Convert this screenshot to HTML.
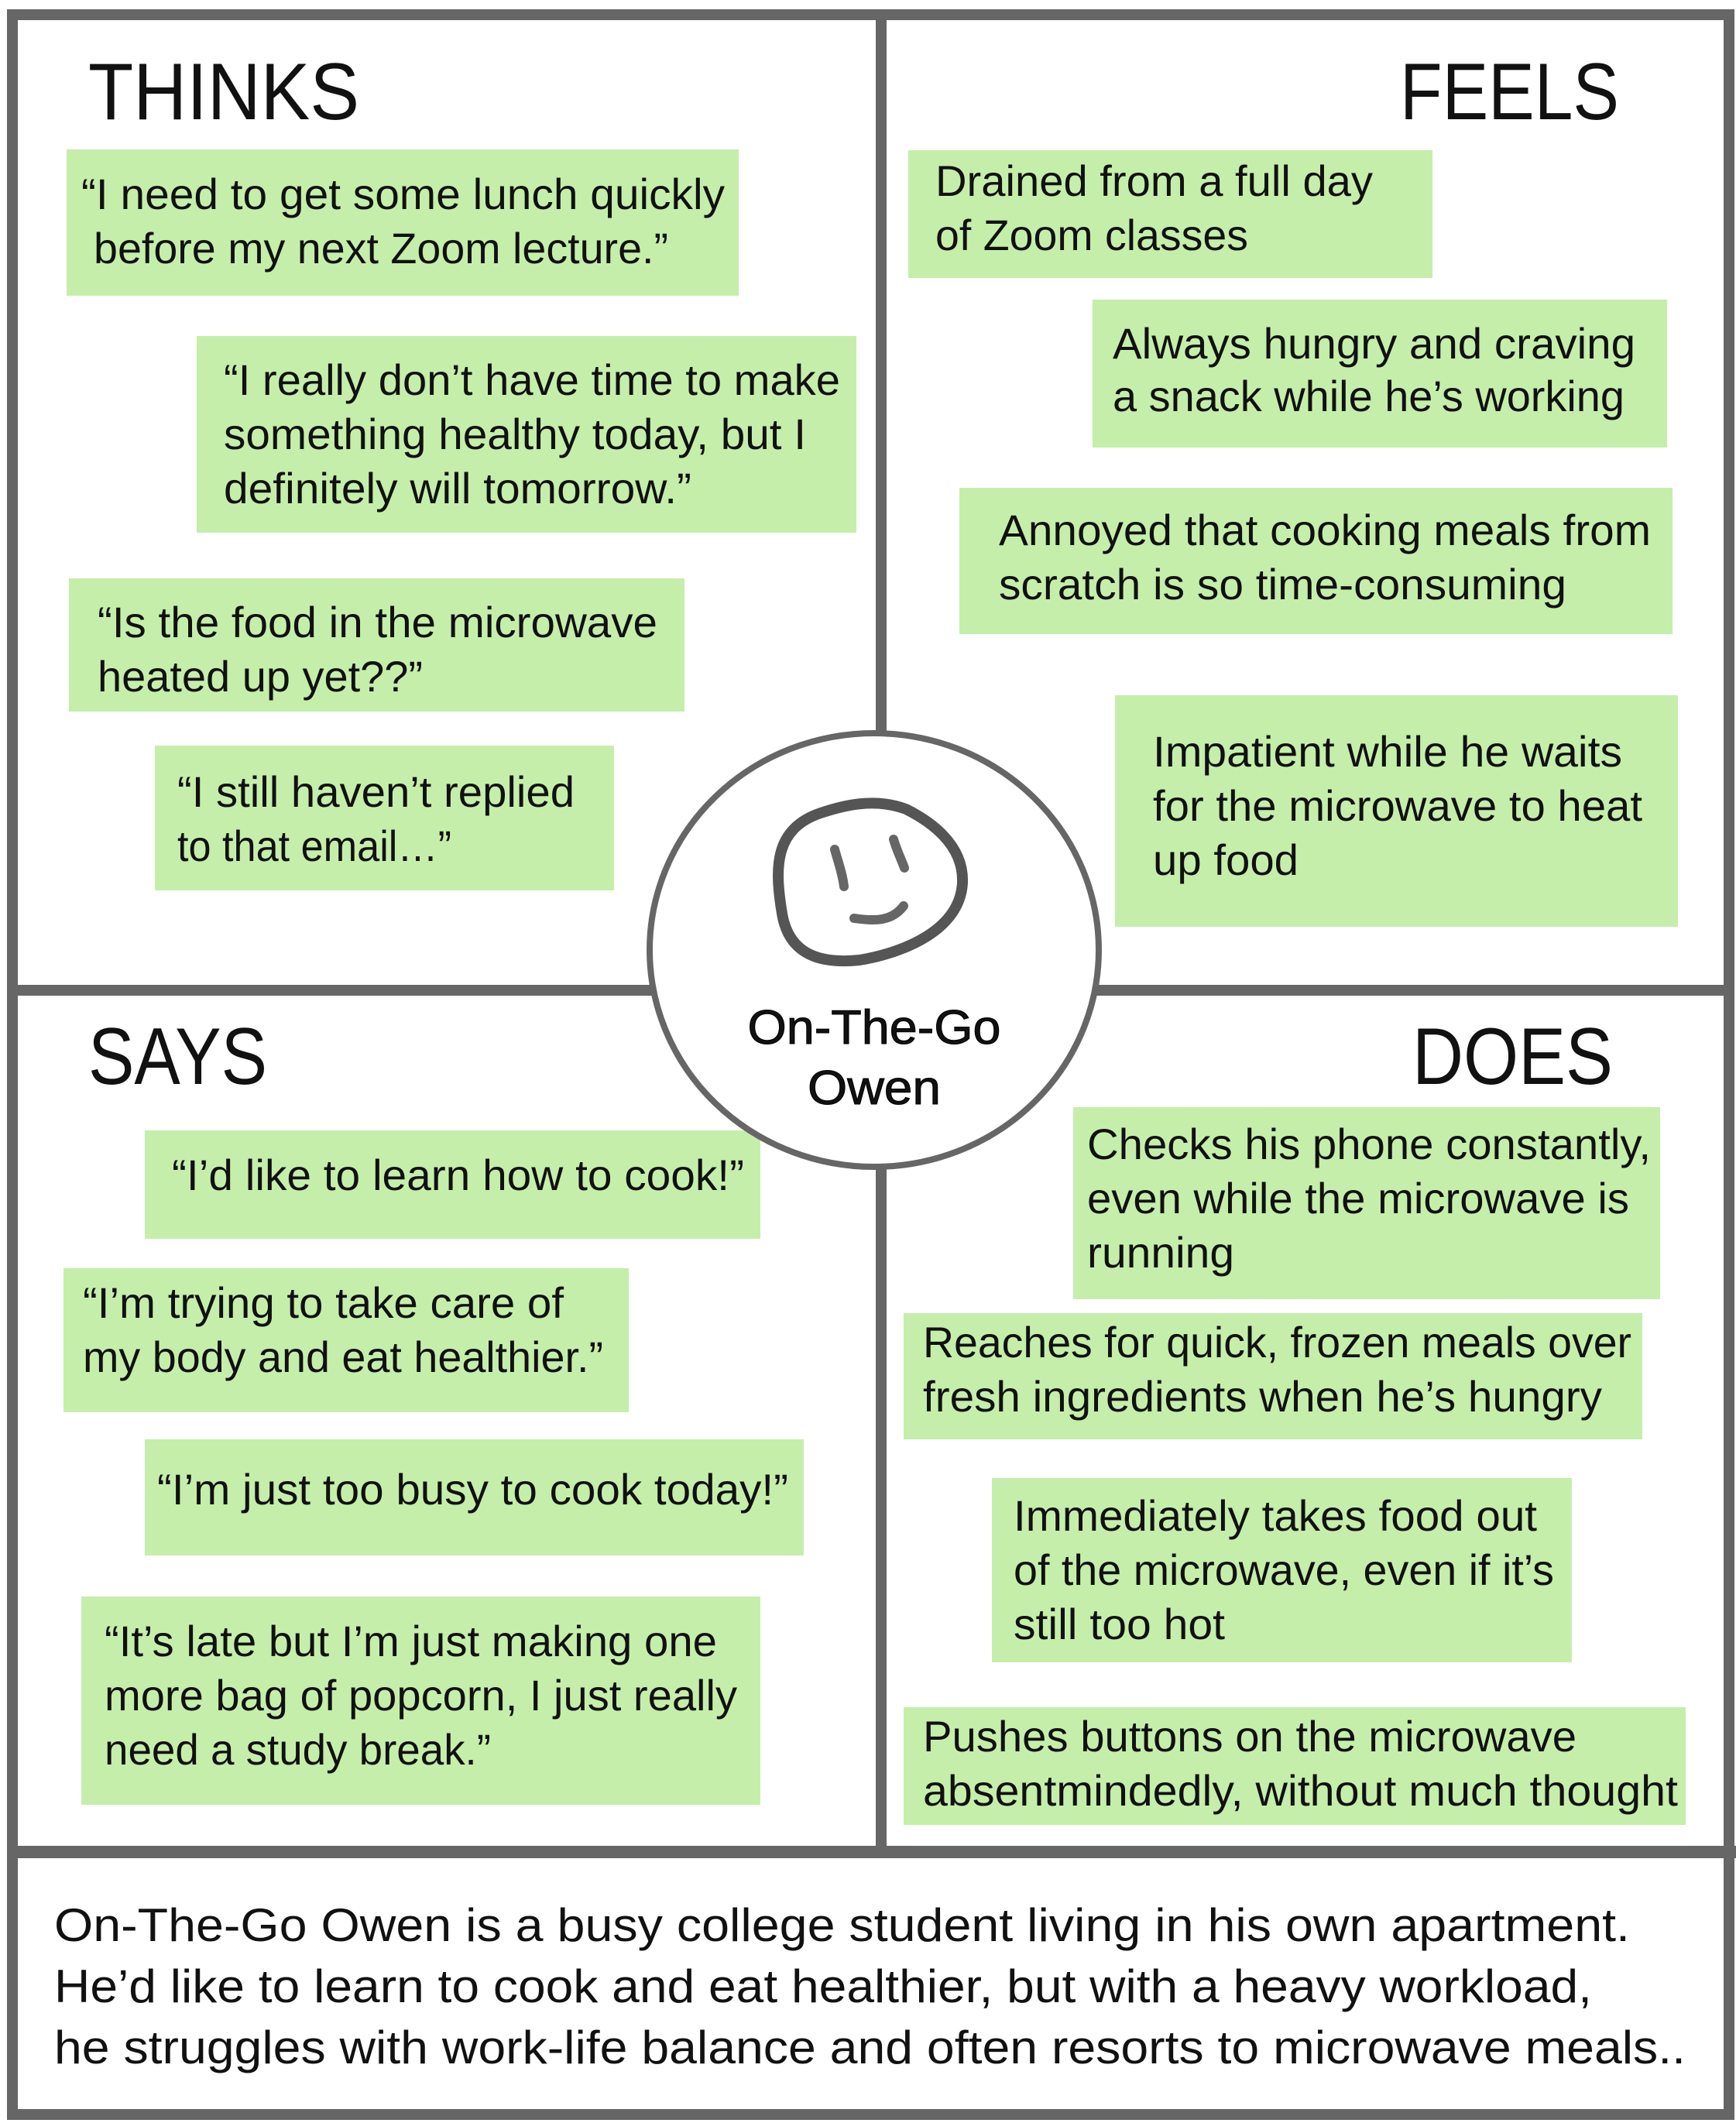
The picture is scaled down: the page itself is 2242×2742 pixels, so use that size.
<!DOCTYPE html>
<html><head><meta charset="utf-8"><style>
html,body{margin:0;padding:0;background:#fff;}
svg{display:block;}
text{font-family:"Liberation Sans",sans-serif;fill:#111;}
.b{font-size:56px;}
.h{font-size:104px;}
</style></head><body>
<svg width="2242" height="2742" viewBox="0 0 2242 2742" xmlns="http://www.w3.org/2000/svg">
<rect x="0" y="0" width="2242" height="2742" fill="#fff"/>
<g fill="#c5eeab">
<rect x="86" y="193" width="868" height="189"/>
<rect x="254" y="434" width="852" height="254"/>
<rect x="89" y="747" width="795" height="172"/>
<rect x="200" y="963" width="593" height="187"/>
<rect x="1173" y="194" width="677" height="165"/>
<rect x="1411" y="387" width="742" height="191"/>
<rect x="1239" y="630" width="921" height="189"/>
<rect x="1440" y="898" width="727" height="299"/>
<rect x="187" y="1460" width="795" height="140"/>
<rect x="82" y="1638" width="730" height="186"/>
<rect x="187" y="1859" width="851" height="150"/>
<rect x="105" y="2062" width="877" height="269"/>
<rect x="1386" y="1430" width="758" height="248"/>
<rect x="1167" y="1696" width="954" height="163"/>
<rect x="1281" y="1909" width="749" height="238"/>
<rect x="1167" y="2205" width="1010" height="152"/>
</g>
<g stroke="#666" fill="none">
<rect x="16" y="19" width="2217" height="2712" stroke-width="14"/>
<line x1="1138" y1="19" x2="1138" y2="2392" stroke-width="14"/>
<line x1="16" y1="1279" x2="2233" y2="1279" stroke-width="14"/>
<line x1="16" y1="2392" x2="2242" y2="2392" stroke-width="16"/>
</g>
<ellipse cx="1129" cy="1227" rx="290" ry="280" fill="#fff" stroke="#666" stroke-width="8"/>
<path d="M1060,1050 C1000,1070 1000,1120 1010,1180 C1020,1240 1070,1244 1110,1240 C1170,1230 1240,1200 1243,1140 C1245,1090 1200,1060 1170,1045 C1130,1030 1090,1040 1060,1050 Z" fill="none" stroke="#555" stroke-width="14"/>
<g stroke="#666" stroke-width="12" stroke-linecap="round" fill="none">
<path d="M1078,1097 C1082,1112 1088,1128 1090,1145"/>
<path d="M1154,1084 C1158,1098 1164,1110 1168,1121"/>
<path d="M1103,1186 C1130,1190 1152,1190 1167,1170"/>
</g>
<text x="1129" y="1348" text-anchor="middle" font-size="62" stroke="#000" stroke-width="1" textLength="327" lengthAdjust="spacingAndGlyphs">On-The-Go</text>
<text x="1129" y="1426" text-anchor="middle" font-size="62" stroke="#000" stroke-width="1" textLength="172" lengthAdjust="spacingAndGlyphs">Owen</text>

<text class="h" x="114" y="154" textLength="350" lengthAdjust="spacingAndGlyphs">THINKS</text>
<text class="h" x="1808" y="154" textLength="283" lengthAdjust="spacingAndGlyphs">FEELS</text>
<text class="h" x="114" y="1400" textLength="231" lengthAdjust="spacingAndGlyphs">SAYS</text>
<text class="h" x="1824" y="1400" textLength="259" lengthAdjust="spacingAndGlyphs">DOES</text>

<g class="b">
<text x="105" y="270" textLength="831" lengthAdjust="spacingAndGlyphs">“I need to get some lunch quickly</text>
<text x="121" y="340" textLength="742" lengthAdjust="spacingAndGlyphs">before my next Zoom lecture.”</text>
<text x="289" y="510" textLength="796" lengthAdjust="spacingAndGlyphs">“I really don’t have time to make</text>
<text x="289" y="580" textLength="752" lengthAdjust="spacingAndGlyphs">something healthy today, but I</text>
<text x="289" y="650" textLength="604" lengthAdjust="spacingAndGlyphs">definitely will tomorrow.”</text>
<text x="126" y="823" textLength="723" lengthAdjust="spacingAndGlyphs">“Is the food in the microwave</text>
<text x="126" y="893" textLength="420" lengthAdjust="spacingAndGlyphs">heated up yet??”</text>
<text x="229" y="1042" textLength="513" lengthAdjust="spacingAndGlyphs">“I still haven’t replied</text>
<text x="229" y="1112" textLength="354" lengthAdjust="spacingAndGlyphs">to that email…”</text>

<text x="1208" y="253" textLength="565" lengthAdjust="spacingAndGlyphs">Drained from a full day</text>
<text x="1208" y="323" textLength="404" lengthAdjust="spacingAndGlyphs">of Zoom classes</text>
<text x="1437" y="463" textLength="675" lengthAdjust="spacingAndGlyphs">Always hungry and craving</text>
<text x="1437" y="531" textLength="661" lengthAdjust="spacingAndGlyphs">a snack while he’s working</text>
<text x="1290" y="704" textLength="842" lengthAdjust="spacingAndGlyphs">Annoyed that cooking meals from</text>
<text x="1290" y="774" textLength="733" lengthAdjust="spacingAndGlyphs">scratch is so time-consuming</text>
<text x="1489" y="990" textLength="606" lengthAdjust="spacingAndGlyphs">Impatient while he waits</text>
<text x="1489" y="1060" textLength="632" lengthAdjust="spacingAndGlyphs">for the microwave to heat</text>
<text x="1489" y="1130" textLength="188" lengthAdjust="spacingAndGlyphs">up food</text>

<text x="222" y="1537" textLength="739" lengthAdjust="spacingAndGlyphs">“I’d like to learn how to cook!”</text>
<text x="107" y="1702" textLength="621" lengthAdjust="spacingAndGlyphs">“I’m trying to take care of</text>
<text x="107" y="1772" textLength="672" lengthAdjust="spacingAndGlyphs">my body and eat healthier.”</text>
<text x="203" y="1943" textLength="815" lengthAdjust="spacingAndGlyphs">“I’m just too busy to cook today!”</text>
<text x="135" y="2139" textLength="791" lengthAdjust="spacingAndGlyphs">“It’s late but I’m just making one</text>
<text x="135" y="2209" textLength="817" lengthAdjust="spacingAndGlyphs">more bag of popcorn, I just really</text>
<text x="135" y="2279" textLength="499" lengthAdjust="spacingAndGlyphs">need a study break.”</text>

<text x="1404" y="1497" textLength="728" lengthAdjust="spacingAndGlyphs">Checks his phone constantly,</text>
<text x="1404" y="1567" textLength="700" lengthAdjust="spacingAndGlyphs">even while the microwave is</text>
<text x="1404" y="1637" textLength="190" lengthAdjust="spacingAndGlyphs">running</text>
<text x="1192" y="1753" textLength="915" lengthAdjust="spacingAndGlyphs">Reaches for quick, frozen meals over</text>
<text x="1192" y="1823" textLength="877" lengthAdjust="spacingAndGlyphs">fresh ingredients when he’s hungry</text>
<text x="1309" y="1977" textLength="676" lengthAdjust="spacingAndGlyphs">Immediately takes food out</text>
<text x="1309" y="2047" textLength="698" lengthAdjust="spacingAndGlyphs">of the microwave, even if it’s</text>
<text x="1309" y="2117" textLength="273" lengthAdjust="spacingAndGlyphs">still too hot</text>
<text x="1192" y="2262" textLength="844" lengthAdjust="spacingAndGlyphs">Pushes buttons on the microwave</text>
<text x="1192" y="2332" textLength="975" lengthAdjust="spacingAndGlyphs">absentmindedly, without much thought</text>
</g>

<g style="font-size:60px">
<text x="70" y="2507" textLength="2035" lengthAdjust="spacingAndGlyphs">On-The-Go Owen is a busy college student living in his own apartment.</text>
<text x="70" y="2586" textLength="1986" lengthAdjust="spacingAndGlyphs">He’d like to learn to cook and eat healthier, but with a heavy workload,</text>
<text x="70" y="2665" textLength="2107" lengthAdjust="spacingAndGlyphs">he struggles with work-life balance and often resorts to microwave meals..</text>
</g>
</svg>
</body></html>
